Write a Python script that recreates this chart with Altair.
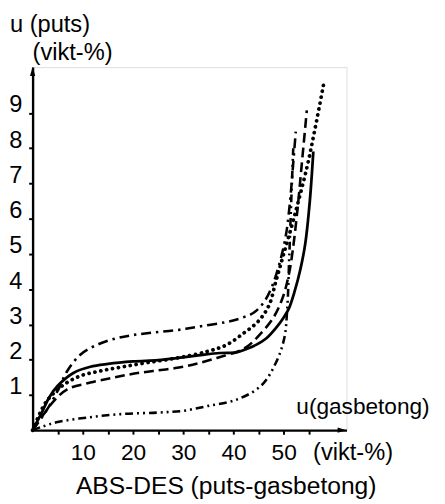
import altair as alt
import pandas as pd

# ---- data (x: u gasbetong, y: u puts, both vikt-%) ----
solid_x = [0, 1.7, 3.3, 5.0, 8.2, 11.5, 15, 20, 25, 29, 33, 37.3, 40.6, 42.5, 44.5, 46.5, 48.4, 50, 51, 52.2, 53.3, 54.3, 55.2, 55.9]
solid_y = [0, 0.46, 0.93, 1.26, 1.63, 1.8, 1.88, 1.95, 1.99, 2.05, 2.12, 2.19, 2.21, 2.3, 2.42, 2.6, 2.89, 3.2, 3.44, 3.95, 4.55, 5.3, 6.5, 7.91]

dotted_x = [0, 2.4, 4.2, 6.3, 9.5, 13.5, 18, 23, 28.8, 34.7, 38.6, 42, 45, 47.1, 48.4, 50, 52, 54.6, 56.3, 57.9]
dotted_y = [0, 0.74, 1.05, 1.3, 1.54, 1.68, 1.8, 1.92, 2.05, 2.23, 2.42, 2.75, 3.1, 3.55, 4.2, 5.0, 6.0, 7.44, 8.6, 9.78]

dashed_x = [0, 2.2, 4.3, 6.9, 11.5, 16.1, 20, 24, 28.8, 33, 36.7, 40.6, 42.5, 44.5, 47.8, 49.7, 51, 51.8, 52.7, 53.6, 54.6]
dashed_y = [0, 0.45, 0.84, 1.16, 1.35, 1.49, 1.6, 1.68, 1.77, 1.9, 2.05, 2.22, 2.35, 2.6, 3.16, 3.72, 4.4, 5.1, 6.2, 7.55, 9.07]

dashdot_x = [0, 2.5, 5, 6.9, 9.5, 12.8, 16.7, 20, 24, 28.8, 33.5, 38.6, 41.5, 44, 46, 47.6, 49.1, 50.4, 51.2, 51.8, 52.4]
dashdot_y = [0, 0.5, 1.12, 1.68, 2.14, 2.42, 2.61, 2.7, 2.77, 2.84, 2.95, 3.07, 3.18, 3.33, 3.62, 4.05, 4.7, 5.5, 6.4, 7.4, 8.47]

lower_x = [0, 1.7, 5, 11.5, 18, 25, 30, 35, 40.5, 45.5, 48.4, 50.1, 50.7, 51.1, 51.5, 51.9]
lower_y = [0, 0.09, 0.23, 0.37, 0.46, 0.5, 0.55, 0.69, 0.86, 1.26, 1.9, 2.6, 3.44, 4.9, 6.5, 8.0]

x_ticks = [5, 10, 15, 20, 25, 30, 35, 40, 45, 50, 55]
y_ticks = [1, 2, 3, 4, 5, 6, 7, 8, 9]

X_MAX = 62.5
Y_MAX = 10.3
W = 319
H = 369
FONT = "Liberation Sans"

xscale = alt.Scale(domain=[0, X_MAX], nice=False, zero=False)
yscale = alt.Scale(domain=[0, Y_MAX], nice=False, zero=False)

x_axis = alt.Axis(
    values=x_ticks, labelExpr="datum.value % 10 == 0 ? datum.label : ''",
    title=None, grid=False, domainColor="black", domainWidth=2.4,
    tickColor="black", tickWidth=2, tickSize=4, labelPadding=8,
    labelFont=FONT, labelFontSize=23, labelColor="black", labelFlush=False,
)
y_axis = alt.Axis(
    values=y_ticks, title=None, grid=False, domainColor="black", domainWidth=2.4,
    tickColor="black", tickWidth=2, tickSize=4, labelPadding=7, labelOffset=-8,
    labelFont=FONT, labelFontSize=24, labelColor="black", labelFlush=False,
)


def curve(xs, ys, dash=None, width=2.6, cap="butt"):
    df = pd.DataFrame({"x": xs, "y": ys, "o": list(range(len(xs)))})
    kw = dict(color="black", strokeWidth=width, interpolate="catmull-rom", strokeCap=cap)
    if dash is not None:
        kw["strokeDash"] = dash
    return alt.Chart(df).mark_line(**kw).encode(
        x=alt.X("x:Q", scale=xscale, axis=x_axis),
        y=alt.Y("y:Q", scale=yscale, axis=y_axis),
        order="o:Q",
    )


layers = [
    curve(lower_x, lower_y, dash=[8, 4, 2, 4, 2, 4], width=2.6),
    curve(dashdot_x, dashdot_y, dash=[10, 5, 2.5, 5], width=2.6),
    curve(dashed_x, dashed_y, dash=[10, 5], width=2.6),
    curve(dotted_x, dotted_y, dash=[0.1, 6], width=3.8, cap="round"),
    curve(solid_x, solid_y, width=2.8),
]

# axis arrowheads
arrow_x = alt.Chart(pd.DataFrame({"x": [X_MAX - 4.5 * X_MAX / W], "y": [0]})).mark_point(
    shape="M1,0L-1,-0.6L-1,0.6Z", filled=True, size=81, color="black", opacity=1
).encode(x=alt.X("x:Q", scale=xscale, axis=x_axis), y=alt.Y("y:Q", scale=yscale, axis=y_axis))
arrow_y = alt.Chart(pd.DataFrame({"x": [0], "y": [Y_MAX - 4.5 * Y_MAX / H]})).mark_point(
    shape="M0,-1L-0.6,1L0.6,1Z", filled=True, size=81, color="black", opacity=1
).encode(x=alt.X("x:Q", scale=xscale, axis=x_axis), y=alt.Y("y:Q", scale=yscale, axis=y_axis))
layers += [arrow_x, arrow_y]


def label(text, px, py, size):
    return alt.Chart(pd.DataFrame({"t": [text]})).mark_text(
        align="left", baseline="alphabetic", font=FONT, fontSize=size, color="black"
    ).encode(x=alt.value(px), y=alt.value(py), text="t:N")


layers += [
    label("u (puts)", -23, -36, 24),
    label("(vikt-%)", 0, -7, 24),
    label("u(gasbetong)", 268, 353, 23),
    label("(vikt-%)", 285, 399, 24),
    label("ABS-DES (puts-gasbetong)", 44, 434, 25),
]

chart = alt.layer(*layers).properties(
    width=W, height=H,
    autosize=alt.AutoSizeParams(type="none"),
    padding={"left": 25, "top": 56, "right": 92, "bottom": 76},
).configure_view(stroke=None).configure(background="white")

chart.save("out.html", embed_options={"renderer": "svg", "actions": False})
